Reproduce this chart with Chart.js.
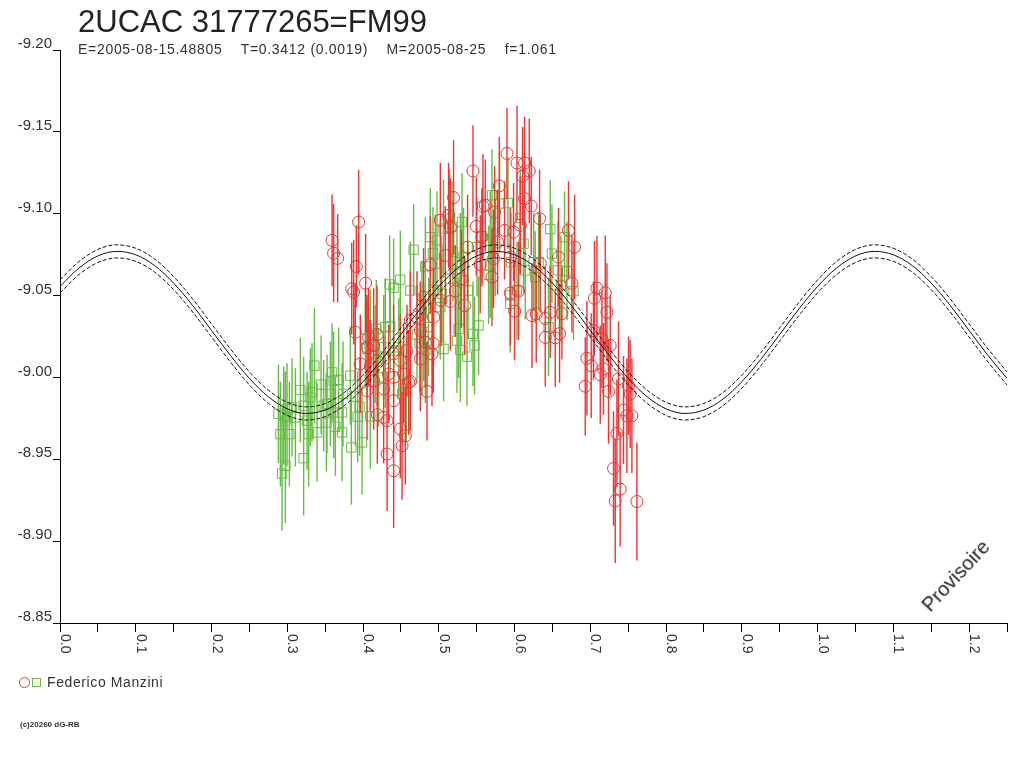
<!DOCTYPE html>
<html>
<head>
<meta charset="utf-8">
<script src="https://cdn.jsdelivr.net/npm/chart.js@4/dist/chart.umd.min.js"></script>
<style>
html,body{margin:0;padding:0;background:#fff;width:1024px;height:768px;overflow:hidden}
#wrap{position:relative;width:1024px;height:768px;background:#fff}
#c{position:absolute;left:0;top:0}
.t{position:absolute;font-family:"Liberation Sans",Arial,sans-serif;color:#222;white-space:pre;margin:0}
#title{left:78px;top:6px;font-size:31px;line-height:31px}
#sub{left:78px;top:42px;font-size:14px;line-height:14px;letter-spacing:0.7px;color:#333}
#legend{left:19px;top:675px;font-size:14px;line-height:14px;color:#333}
#legend .txt{position:absolute;left:28px;top:0;letter-spacing:0.6px}
#legend .cir{position:absolute;left:0;top:2px;width:9px;height:9px;border:1px solid #ee3333;border-radius:50%}
#legend .sq{position:absolute;left:13px;top:3px;width:7px;height:7px;border:1px solid #66bb44}
#copy{left:20px;top:721px;font-size:8px;line-height:8px;font-weight:bold;color:#333}
#prov{left:930px;top:596px;font-size:20px;line-height:20px;transform-origin:0 16.6px;transform:rotate(-47deg)}
</style>
</head>
<body>
<div id="wrap">
<canvas id="c" width="1024" height="768"></canvas>
<div class="t" id="title">2UCAC 31777265=FM99</div>
<div class="t" id="sub">E=2005-08-15.48805    T=0.3412 (0.0019)    M=2005-08-25    f=1.061</div>
<div class="t" id="legend"><span class="cir"></span><span class="sq"></span><span class="txt">Federico Manzini</span></div>
<div class="t" id="copy">(c)20260 dG-RB</div>
<div class="t" id="prov">Provisoire</div>
</div>
<script>
// ---- tick values / labels ----
const yTickValues = [-9.20, -9.15, -9.10, -9.05, -9.00, -8.95, -8.90, -8.85];
const xTickValues = [0.00,0.05,0.10,0.15,0.20,0.25,0.30,0.35,0.40,0.45,0.50,0.55,0.60,0.65,0.70,0.75,0.80,0.85,0.90,0.95,1.00,1.05,1.10,1.15,1.20,1.25];
const xMajorValues = [0.0,0.1,0.2,0.3,0.4,0.5,0.6,0.7,0.8,0.9,1.0,1.1,1.2];
const xMajorLabels = ['0.0','0.1','0.2','0.3','0.4','0.5','0.6','0.7','0.8','0.9','1.0','1.1','1.2'];

// ---- observer series 1 (red circles) ----
const phaseRed = [0.3591,0.3612,0.3665,0.3850,0.3876,0.3898,0.3912,0.3942,0.3964,0.4034,
0.4053,0.4053,0.4074,0.4096,0.4140,0.4140,0.4185,0.4185,0.4189,0.4272,
0.4272,0.4317,0.4317,0.4338,0.4404,0.4404,0.4404,0.4404,0.4492,0.4492,
0.4515,0.4536,0.4558,0.4580,0.4602,0.4624,0.4624,0.4712,0.4756,0.4756,
0.4799,0.4822,0.4844,0.4888,0.4910,0.4931,0.5020,0.5029,0.5086,0.5129,
0.5152,0.5195,0.5218,0.5297,0.5340,0.5380,0.5451,0.5495,0.5547,0.5570,
0.5583,0.5613,0.5702,0.5723,0.5736,0.5776,0.5798,0.5868,0.5900,0.5943,
0.5943,0.5987,0.6000,0.6032,0.6053,0.6075,0.6106,0.6132,0.6132,0.6194,
0.6220,0.6230,0.6286,0.6330,0.4927,0.5152,0.6339,0.6405,0.6405,0.6471,
0.6537,0.6580,0.6594,0.6625,0.6712,0.6757,0.6792,0.6933,0.6955,0.7012,
0.7042,0.7055,0.7087,0.7131,0.7153,0.7174,0.7197,0.7219,0.7240,0.7263,
0.7306,0.7329,0.7351,0.7372,0.7394,0.7438,0.7483,0.7504,0.7526,0.7549,0.7615];
const magRed = [-9.0837,-9.0759,-9.0727,-9.0542,-9.0521,-9.0276,-9.0678,-9.0949,-9.0083,-9.0576,
-8.9919,-9.0184,-9.0245,-9.0072,-9.0195,-8.9980,-9.0262,-9.0103,-8.9772,-8.9930,
-8.9756,-8.9736,-8.9532,-9.0021,-9.0001,-9.0144,-8.9858,-8.9430,-8.9685,-9.0103,
-8.9583,-9.0021,-8.9644,-9.0164,-8.9970,-9.0348,-8.9976,-9.0368,-9.0286,-9.0113,
-9.0490,-9.0215,-8.9915,-9.0689,-9.0144,-9.0368,-9.0960,-9.0470,-9.0745,-9.0990,
-9.0464,-9.1099,-9.0527,-9.0603,-9.0439,-9.0796,-9.1261,-9.0923,-9.0690,-9.0857,
-9.1045,-9.1051,-9.0613,-9.0725,-9.1010,-9.0827,-9.1170,-9.0898,-9.1368,-9.0735,
-9.0515,-9.0888,-9.0405,-9.1310,-9.0527,-9.0929,-9.1229,-9.1310,-9.1092,-9.1261,
-9.1047,-9.0378,-9.0389,-9.0970,-9.0207,-9.0917,-9.0696,-9.0360,-9.0245,-9.0398,
-9.0242,-9.0735,-9.0268,-9.0390,-9.0898,-9.0574,-9.0796,-8.9946,-9.0117,-9.0072,
-9.0286,-9.0484,-9.0545,-9.0017,-9.0236,-9.0052,-9.0517,-9.0398,-8.9915,-9.0195,
-8.9444,-8.9246,-8.9658,-8.9991,-8.9318,-8.9801,-8.9766,-8.9950,-8.9899,-8.9766,-8.9242];
const errRed = [0.028,0.030,0.027,0.028,0.032,0.030,0.025,0.032,0.030,0.030,
0.030,0.032,0.030,0.028,0.035,0.030,0.030,0.028,0.030,0.032,
0.028,0.030,0.035,0.030,0.032,0.030,0.030,0.035,0.030,0.028,
0.033,0.030,0.030,0.028,0.032,0.030,0.030,0.028,0.030,0.032,
0.030,0.028,0.030,0.030,0.032,0.030,0.035,0.028,0.030,0.032,
0.030,0.035,0.028,0.030,0.030,0.032,0.028,0.030,0.030,0.030,
0.032,0.028,0.030,0.030,0.028,0.032,0.030,0.030,0.028,0.030,
0.032,0.030,0.030,0.035,0.030,0.030,0.030,0.028,0.030,0.032,
0.030,0.032,0.030,0.030,0.030,0.030,0.030,0.032,0.030,0.028,
0.030,0.030,0.030,0.028,0.030,0.030,0.032,0.030,0.035,0.032,
0.030,0.035,0.032,0.030,0.030,0.028,0.035,0.030,0.032,0.030,
0.035,0.038,0.033,0.035,0.035,0.033,0.035,0.030,0.033,0.035,0.036];

// ---- observer series 2 (green squares) ----
const phaseGreen = [0.2883,0.2909,0.2931,0.2953,0.2975,0.2975,0.2997,0.2997,0.3028,0.3063,
0.3107,0.3173,0.3216,0.3216,0.3261,0.3282,0.3305,0.3327,0.3358,0.3393,
0.3446,0.3480,0.3516,0.3525,0.3569,0.3591,0.3612,0.3612,0.3635,0.3678,
0.3723,0.3723,0.3736,0.3832,0.3846,0.3898,0.3929,0.3955,0.3987,0.4030,
0.4053,0.4096,0.4096,0.4162,0.4175,0.4206,0.4272,0.4294,0.4294,0.4351,
0.4360,0.4404,0.4404,0.4470,0.4492,0.4515,0.4571,0.4624,0.4668,0.4712,
0.4747,0.4778,0.4778,0.4799,0.4822,0.4822,0.4865,0.4888,0.4923,0.4931,
0.4954,0.4976,0.5020,0.5042,0.5063,0.5063,0.5142,0.5152,0.5174,0.5187,
0.5240,0.5240,0.5261,0.5284,0.5284,0.5306,0.5327,0.5327,0.5372,0.5385,
0.5451,0.5472,0.5504,0.5525,0.5570,0.5657,0.5679,0.5679,0.5702,0.5745,
0.5802,0.5913,0.5943,0.5943,0.5953,0.6032,0.6075,0.6119,0.6141,0.6251,
0.6273,0.6317,0.6449,0.6471,0.6493,0.6573,0.6612,0.6660,0.6691,0.6778];
const magGreen = [-8.9778,-8.9654,-8.9413,-8.9766,-8.9460,-8.9736,-8.9807,-8.9756,-8.9654,-8.9817,
-8.9756,-8.9923,-8.9827,-8.9507,-8.9736,-8.9654,-8.9878,-8.9909,-9.0072,-8.9664,
-8.9956,-8.9827,-8.9725,-8.9838,-8.9899,-9.0031,-8.9980,-8.9786,-8.9699,-8.9985,
-8.9786,-8.9664,-8.9899,-9.0011,-8.9572,-8.9883,-8.9760,-8.9821,-8.9603,-9.0236,
-9.0174,-9.0256,-8.9762,-9.0144,-9.0297,-9.0001,-9.0184,-9.0307,-9.0113,-9.0568,
-9.0311,-9.0548,-9.0164,-9.0184,-9.0597,-8.9899,-8.9930,-9.0531,-9.0780,-9.0262,
-9.0209,-9.0389,-9.0188,-9.0276,-9.0678,-9.0164,-9.0307,-9.0857,-9.0759,-9.0536,
-9.0695,-9.0837,-9.0429,-9.0511,-9.0909,-9.0174,-9.0970,-9.0603,-9.0919,-9.0766,
-9.0633,-9.0225,-9.0297,-9.0704,-9.0168,-9.0949,-9.0735,-9.0592,-9.0127,-9.0531,
-9.0266,-9.0195,-9.0796,-9.0317,-9.0862,-9.0627,-9.0837,-9.0684,-9.1113,-9.0796,
-9.1062,-9.1065,-9.0501,-9.0450,-9.0704,-9.0531,-9.0974,-9.0817,-9.0654,-9.0704,
-9.0613,-9.0704,-9.0307,-9.0906,-9.0756,-9.0654,-9.0562,-9.0857,-9.0649,-9.0527];
const errGreen = [0.030,0.032,0.035,0.030,0.035,0.030,0.028,0.030,0.032,0.030,
0.030,0.032,0.030,0.035,0.030,0.032,0.030,0.030,0.035,0.030,
0.030,0.028,0.030,0.030,0.032,0.030,0.030,0.028,0.030,0.032,
0.030,0.030,0.032,0.030,0.035,0.030,0.028,0.030,0.032,0.030,
0.030,0.028,0.032,0.030,0.030,0.030,0.032,0.030,0.030,0.030,
0.028,0.030,0.032,0.030,0.030,0.030,0.032,0.030,0.028,0.030,
0.030,0.032,0.030,0.030,0.030,0.032,0.030,0.030,0.028,0.030,
0.030,0.030,0.032,0.030,0.030,0.032,0.030,0.030,0.028,0.030,
0.030,0.032,0.030,0.030,0.032,0.030,0.030,0.028,0.030,0.030,
0.032,0.030,0.030,0.030,0.028,0.030,0.030,0.032,0.028,0.030,
0.030,0.028,0.032,0.030,0.030,0.030,0.030,0.030,0.030,0.030,
0.028,0.030,0.030,0.030,0.030,0.030,0.030,0.028,0.030,0.030];

// ---- fitted light curve ----
const curvePhase = [0.000,0.025,0.050,0.075,0.100,0.125,0.150,0.175,0.200,0.225,
0.250,0.275,0.300,0.325,0.350,0.375,0.400,0.425,0.450,0.475,
0.500,0.525,0.550,0.575,0.600,0.625,0.650,0.675,0.700,0.725,
0.750,0.775,0.800,0.825,0.850,0.875,0.900,0.925,0.950,0.975,
1.000,1.025,1.050,1.075,1.100,1.125,1.150,1.175,1.200,1.225,1.250];
const curveMid = [-9.0556,-9.0668,-9.0742,-9.0770,-9.0749,-9.0683,-9.0576,-9.0440,-9.0287,-9.0134,
-8.9994,-8.9882,-8.9808,-8.9780,-8.9801,-8.9867,-8.9974,-9.0110,-9.0263,-9.0416,
-9.0556,-9.0668,-9.0742,-9.0770,-9.0749,-9.0683,-9.0576,-9.0440,-9.0287,-9.0134,
-8.9994,-8.9882,-8.9808,-8.9780,-8.9801,-8.9867,-8.9974,-9.0110,-9.0263,-9.0416,
-9.0556,-9.0668,-9.0742,-9.0770,-9.0749,-9.0683,-9.0576,-9.0440,-9.0287,-9.0134,-8.9994];
const curveUpper = [-9.0596,-9.0708,-9.0782,-9.0810,-9.0789,-9.0723,-9.0616,-9.0480,-9.0327,-9.0174,
-9.0034,-8.9922,-8.9848,-8.9820,-8.9841,-8.9907,-9.0014,-9.0150,-9.0303,-9.0456,
-9.0596,-9.0708,-9.0782,-9.0810,-9.0789,-9.0723,-9.0616,-9.0480,-9.0327,-9.0174,
-9.0034,-8.9922,-8.9848,-8.9820,-8.9841,-8.9907,-9.0014,-9.0150,-9.0303,-9.0456,
-9.0596,-9.0708,-9.0782,-9.0810,-9.0789,-9.0723,-9.0616,-9.0480,-9.0327,-9.0174,-9.0034];
const curveLower = [-9.0516,-9.0628,-9.0702,-9.0730,-9.0709,-9.0643,-9.0536,-9.0400,-9.0247,-9.0094,
-8.9954,-8.9842,-8.9768,-8.9740,-8.9761,-8.9827,-8.9934,-9.0070,-9.0223,-9.0376,
-9.0516,-9.0628,-9.0702,-9.0730,-9.0709,-9.0643,-9.0536,-9.0400,-9.0247,-9.0094,
-8.9954,-8.9842,-8.9768,-8.9740,-8.9761,-8.9827,-8.9934,-9.0070,-9.0223,-9.0376,
-9.0516,-9.0628,-9.0702,-9.0730,-9.0709,-9.0643,-9.0536,-9.0400,-9.0247,-9.0094,-8.9954];

// ---- build library data ----
const RED = '#ee3333', GREEN = '#66bb44';
const FONT = '"Liberation Sans", Arial, sans-serif';
function pts(xs, ys){ return xs.map((x,i)=>({x:x, y:ys[i]})); }
function errSegs(xs, ys, es){
  const d = [];
  xs.forEach((x,i)=>{ d.push({x:x, y:ys[i]-es[i]}, {x:x, y:ys[i]+es[i]}, {x:x, y:null}); });
  return d;
}
function curveSet(label, ys, dash){
  return {label:label, data:pts(curvePhase, ys), showLine:true, borderColor:'#111', borderWidth:1,
    borderDash:dash, pointRadius:0, cubicInterpolationMode:'monotone', fill:false};
}

const xLabelPlugin = {
  id:'xlabels',
  afterDraw(chart){
    const s = chart.scales.x, ctx = chart.ctx;
    ctx.save();
    ctx.font = '14px ' + FONT;
    ctx.fillStyle = '#333';
    ctx.textAlign = 'left';
    ctx.textBaseline = 'alphabetic';
    xMajorValues.forEach((v,i)=>{
      const px = s.getPixelForValue(v);
      ctx.save();
      ctx.translate(px + 1, s.top + 11);
      ctx.rotate(Math.PI/2);
      ctx.fillText(xMajorLabels[i], 0, 0);
      ctx.restore();
    });
    ctx.restore();
  }
};

new Chart(document.getElementById('c'), {
  type:'scatter',
  data:{ datasets:[
    curveSet('fit', curveMid, []),
    curveSet('fit upper', curveUpper, [4,2]),
    curveSet('fit lower', curveLower, [4,2]),
    {label:'Federico Manzini (1)', data:pts(phaseRed, magRed), pointStyle:'circle', pointRadius:6,
      borderColor:RED, backgroundColor:'rgba(0,0,0,0)', borderWidth:1, showLine:false},
    {label:'err1', data:errSegs(phaseRed, magRed, errRed), showLine:true, spanGaps:false,
      borderColor:RED, borderWidth:1.4, pointRadius:0},
    {label:'Federico Manzini (2)', data:pts(phaseGreen, magGreen), pointStyle:'rect', pointRadius:6.6,
      borderColor:GREEN, backgroundColor:'rgba(0,0,0,0)', borderWidth:1, showLine:false},
    {label:'err2', data:errSegs(phaseGreen, magGreen, errGreen), showLine:true, spanGaps:false,
      borderColor:GREEN, borderWidth:1.4, pointRadius:0}
  ]},
  options:{
    responsive:false, animation:false, devicePixelRatio:1,
    layout:{padding:{left:0, right:17, top:50, bottom:0}},
    plugins:{legend:{display:false}, title:{display:false}, tooltip:{enabled:false}},
    events:[],
    scales:{
      x:{type:'linear', min:0, max:1.25,
        afterBuildTicks:(s)=>{ s.ticks = xTickValues.map(v=>({value:v})); },
        afterFit:(s)=>{ s.height = 145; },
        ticks:{display:false},
        grid:{drawOnChartArea:false, drawTicks:true, tickLength:9, color:'#000', lineWidth:1},
        border:{display:true, color:'#000', width:1}
      },
      y:{type:'linear', reverse:true, min:-9.20, max:-8.85,
        afterBuildTicks:(s)=>{ s.ticks = yTickValues.map(v=>({value:v})); },
        afterFit:(s)=>{ s.width = 60; },
        ticks:{callback:(v)=>Number(v).toFixed(2), font:{family:FONT, size:15}, color:'#333', padding:1, labelOffset:-6, autoSkip:false},
        grid:{drawOnChartArea:false, drawTicks:true, tickLength:7, color:'#000', lineWidth:1},
        border:{display:true, color:'#000', width:1}
      }
    }
  },
  plugins:[xLabelPlugin]
});
</script>
</body>
</html>
